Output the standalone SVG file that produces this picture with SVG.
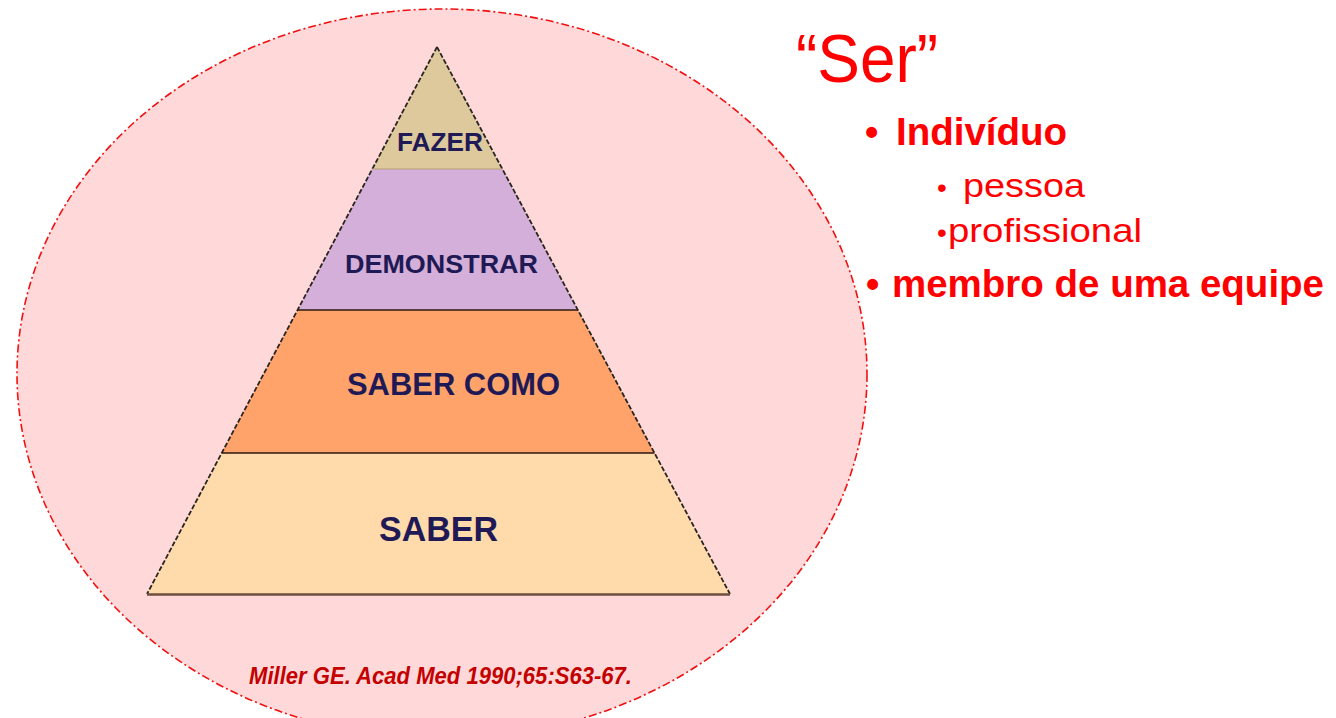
<svg xmlns="http://www.w3.org/2000/svg" width="1336" height="718" viewBox="0 0 1336 718">
  <style>
    .lvl { font-family: "Liberation Sans", Arial, sans-serif; font-weight: bold; fill: #1F1A55; text-anchor: start; }
    .side { fill: none; stroke: #2b2520; stroke-width: 1.8; stroke-dasharray: 5 2; }
    .sep { stroke: #2b1a10; stroke-width: 1.6; }
    .red { font-family: "Liberation Sans", Arial, sans-serif; fill: #FF0000; }
    .b { font-weight: bold; }
  </style>
  <rect width="1336" height="718" fill="#FFFFFF"/>
  <g id="circle">
    <ellipse cx="442" cy="374" rx="425" ry="365" fill="#FFD9D9" stroke="#F01010" stroke-width="1.6" stroke-dasharray="8 3 2 3"/>
  </g>
  <g id="pyramid">
    <g id="fazer">
      <polygon points="437,47 502.3,169 372.3,169" fill="#DDC99B"/>
      <text class="lvl" x="397" y="151" font-size="26" textLength="86" lengthAdjust="spacingAndGlyphs">FAZER</text>
    </g>
    <g id="demonstrar">
      <polygon points="372.3,169 502.3,169 577.9,310 297.6,310" fill="#D3AFD9"/>
      <text class="lvl" x="345" y="273" font-size="25" textLength="193" lengthAdjust="spacingAndGlyphs">DEMONSTRAR</text>
    </g>
    <g id="saber-como">
      <polygon points="297.6,310 577.9,310 654.5,453 221.7,453" fill="#FFA36B"/>
      <text class="lvl" x="347" y="395" font-size="32" textLength="213" lengthAdjust="spacingAndGlyphs">SABER COMO</text>
    </g>
    <g id="saber">
      <polygon points="221.7,453 654.5,453 730,594 147,594" fill="#FFDAAB"/>
      <text class="lvl" x="379" y="541" font-size="35" textLength="119" lengthAdjust="spacingAndGlyphs">SABER</text>
    </g>
    <g id="pyramid-outline">
      <line class="side" x1="437" y1="47" x2="147" y2="594"/>
      <line class="side" x1="437" y1="47" x2="730" y2="594"/>
      <line x1="372.3" y1="169" x2="502.3" y2="169" stroke="#B89E7A" stroke-width="1.2"/>
      <line class="sep" x1="297.6" y1="310" x2="577.9" y2="310"/>
      <line class="sep" x1="221.7" y1="453" x2="654.5" y2="453"/>
      <line x1="147" y1="594.5" x2="730" y2="594.5" stroke="#6E4E40" stroke-width="2.5"/>
    </g>
  </g>
  <g id="citation">
    <text x="249" y="684" font-family="Liberation Sans, Arial, sans-serif" font-weight="bold" font-style="italic" font-size="23" fill="#C40000" textLength="383" lengthAdjust="spacingAndGlyphs">Miller GE. Acad Med 1990;65:S63-67.</text>
  </g>
  <g id="ser-list">
    <text class="red" x="796" y="82" font-size="68" textLength="142" lengthAdjust="spacingAndGlyphs">“Ser”</text>
    <text class="red b" x="865" y="145" font-size="38">•</text>
    <text class="red b" x="896" y="145" font-size="38" textLength="171" lengthAdjust="spacingAndGlyphs">Indivíduo</text>
    <text class="red" x="937" y="197" font-size="28">•</text>
    <text class="red" x="963" y="197" font-size="33" textLength="122" lengthAdjust="spacingAndGlyphs">pessoa</text>
    <text class="red" x="937" y="242" font-size="28">•</text>
    <text class="red" x="948" y="242" font-size="33" textLength="194" lengthAdjust="spacingAndGlyphs">profissional</text>
    <text class="red b" x="866" y="297" font-size="38">•</text>
    <text class="red b" x="892" y="297" font-size="38" textLength="432" lengthAdjust="spacingAndGlyphs">membro de uma equipe</text>
  </g>
  <g id="connectors"/>
</svg>
